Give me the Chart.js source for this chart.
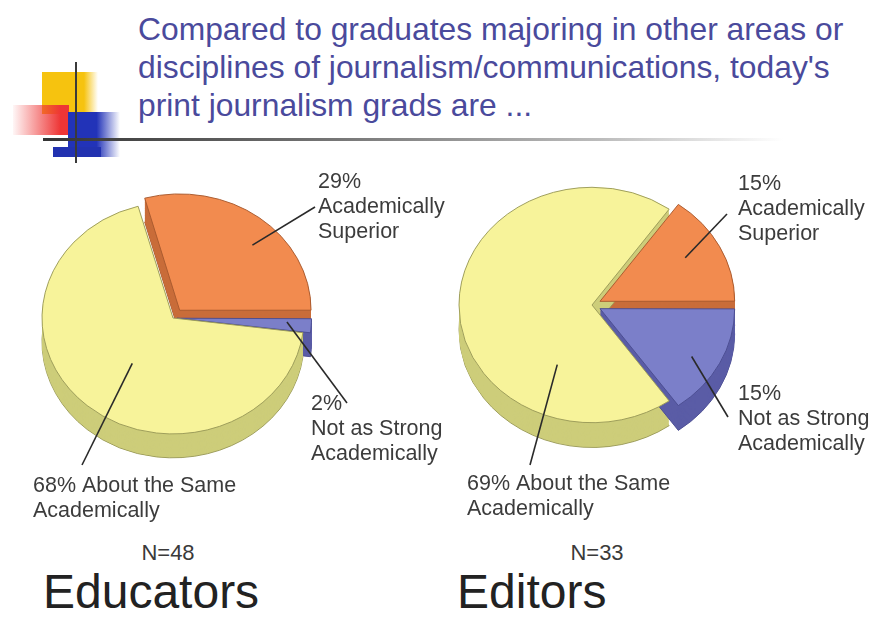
<!DOCTYPE html>
<html>
<head>
<meta charset="utf-8">
<script src="https://cdn.jsdelivr.net/npm/chart.js@4.4.1/dist/chart.umd.min.js"></script>
<style>
  body { margin: 0; width: 886px; height: 625px; background: #fff; position: relative; overflow: hidden;
         font-family: "Liberation Sans", Arial, sans-serif; }
  .abs { position: absolute; }
  #title { left: 138px; top: 10px; font-size: 31.8px; line-height: 38px; color: #4a4a9c; white-space: nowrap; }
  .n { font-size: 22px; color: #3a3a3a; line-height: 22px; }
  .group { font-size: 48px; color: #222; line-height: 48px; }
  canvas { position: absolute; }
</style>
</head>
<body>
<!-- slide decoration -->
<div class="abs" style="left:42px;top:72px;width:56px;height:42px;background:linear-gradient(to right,#f6c30f 75%,rgba(246,195,15,0));"></div>
<div class="abs" style="left:13px;top:105px;width:56px;height:30px;background:linear-gradient(to right,rgba(245,90,90,0.05),#ee3535 85%);"></div>
<div class="abs" style="left:68px;top:112px;width:52px;height:45px;background:linear-gradient(to right,#2233b8 55%,rgba(34,51,184,0));"></div>
<div class="abs" style="left:53px;top:147px;width:48px;height:10px;background:#2232b0;"></div>
<div class="abs" style="left:75px;top:62px;width:2px;height:101px;background:#3a3a3a;"></div>
<div class="abs" style="left:43px;top:138px;width:740px;height:3px;background:linear-gradient(to right,#333 0%,#777 40%,#bbb 75%,rgba(220,220,220,0) 100%);"></div>

<div id="title" class="abs">Compared to graduates majoring in other areas or<br>disciplines of journalism/communications, today's<br>print journalism grads are ...</div>

<canvas id="pieLeft" width="470" height="370" style="left:0;top:165px"></canvas>
<canvas id="pieRight" width="443" height="370" style="left:443px;top:165px"></canvas>

<div id="n0" class="abs n"></div>
<div id="g0" class="abs group"></div>
<div id="n1" class="abs n"></div>
<div id="g1" class="abs group"></div>

<script>
// data
const categories = ['Academically Superior', 'Not as Strong Academically', 'About the Same Academically'];
const labelLines = [['Academically', 'Superior'], ['Not as Strong', 'Academically'], ['About the Same', 'Academically']];
const educatorsValues = [29, 2, 68];
const editorsValues = [15, 15, 69];
const groups = ['Educators', 'Editors'];
const sampleSizes = [48, 33];

const topColors = ['#f28b4f', '#7b7fc9', '#f7f39a'];
const sideColors = ['#c96d3a', '#5a5ca6', '#cdcd7a'];
const edgeColors = ['#a8592e', '#4a4c90', '#9a9a58'];
const tilt = 0.885;

// fake 3D: squash the pie and stack darker copies of each arc underneath
const depthPlugin = {
  id: 'depth',
  beforeDatasetsDraw(chart, args, opts) {
    const ctx = chart.ctx;
    const arcs = chart.getDatasetMeta(0).data;
    const cx = arcs[0].x, cy = arcs[0].y;
    ctx.save();
    ctx.translate(cx, cy);
    ctx.scale(1, tilt);
    ctx.translate(-cx, -cy);
    const steps = Math.round(opts.depth / tilt);
    const order = arcs.map((a, i) => i).sort((a, b) =>
      Math.sin((arcs[a].startAngle + arcs[a].endAngle) / 2) - Math.sin((arcs[b].startAngle + arcs[b].endAngle) / 2));
    order.forEach(i => {
      const arc = arcs[i];
      for (let d = steps; d >= 1; d--) {
        const ghost = Object.create(arc);
        ghost.options = Object.assign({}, arc.options, {
          backgroundColor: sideColors[i],
          borderColor: edgeColors[i],
          borderWidth: d === steps ? 1 : 0
        });
        ctx.save();
        ctx.translate(0, d);
        ghost.draw(ctx);
        ctx.restore();
      }
    });
  },
  afterDatasetsDraw(chart) {
    chart.ctx.restore();
  },
  afterDraw(chart, args, opts) {
    const ctx = chart.ctx;
    const arcs = chart.getDatasetMeta(0).data;
    const values = chart.data.datasets[0].data;
    ctx.save();
    ctx.font = '21.5px "Liberation Sans", Arial, sans-serif';
    ctx.fillStyle = '#3c3c3c';
    ctx.strokeStyle = '#2a2a2a';
    ctx.lineWidth = 1.6;
    opts.labels.forEach((lab, i) => {
      const arc = arcs[i];
      const off = (arc.options.offset || 0) / 4;
      const mid = (arc.startAngle + arc.endAngle) / 2;
      const a = arc.startAngle + (arc.endAngle - arc.startAngle) * lab.t;
      const r = arc.outerRadius * lab.f;
      const sx = arc.x + Math.cos(mid) * off + Math.cos(a) * r;
      const sy = arc.y + (Math.sin(mid) * off + Math.sin(a) * r) * tilt;
      ctx.beginPath();
      ctx.moveTo(sx, sy);
      ctx.lineTo(lab.end[0] - opts.left, lab.end[1] - opts.top);
      ctx.stroke();
      const lines = i === 2
        ? [values[i] + '% ' + labelLines[i][0], labelLines[i][1]]
        : [values[i] + '%', ...labelLines[i]];
      lines.forEach((txt, k) => ctx.fillText(txt, lab.x - opts.left, lab.y - opts.top + k * 25));
    });
    ctx.restore();
  }
};

function makePie(id, values, radius, padding, offsets, depth, left, top, labels) {
  const total = values.reduce((s, v) => s + v, 0);
  return new Chart(document.getElementById(id), {
    type: 'pie',
    data: {
      labels: categories,
      datasets: [{
        data: values,
        backgroundColor: topColors,
        borderColor: edgeColors,
        borderWidth: 1,
        offset: offsets,
        radius: radius,
        rotation: 90 - 360 * values[0] / total,
        clip: false
      }]
    },
    options: {
      responsive: false,
      animation: false,
      events: [],
      layout: { padding: padding },
      plugins: {
        legend: { display: false },
        tooltip: { enabled: false },
        depth: { depth: depth, left: left, top: top, labels: labels }
      }
    },
    plugins: [depthPlugin]
  });
}

makePie('pieLeft', educatorsValues, 131, { left: 0, top: 0, right: 124, bottom: 64 }, [44, 16, 0], 24, 0, 165, [
  { t: 0.57, f: 0.79, end: [315, 207], x: 318, y: 188 },
  { t: 0.3, f: 0.84, end: [347, 403], x: 311, y: 410 },
  { t: 0.49, f: 0.5, end: [82, 465], x: 33, y: 492 }
]);
makePie('pieRight', editorsValues, 133, { left: 0, top: 0, right: 145, bottom: 90 }, [36, 36, 0], 25, 443, 165, [
  { t: 0.45, f: 0.74, end: [727, 214], x: 738, y: 190 },
  { t: 0.56, f: 0.8, end: [728, 417], x: 738, y: 400 },
  { t: 0.25, f: 0.57, end: [530, 465], x: 467, y: 490 }
]);

// group captions under each pie
const capPos = [{ n: 168, g: 43 }, { n: 597, g: 457 }];
groups.forEach((g, i) => {
  const n = document.getElementById('n' + i);
  n.textContent = 'N=' + sampleSizes[i];
  n.style.left = (capPos[i].n - 30) + 'px';
  n.style.width = '60px';
  n.style.textAlign = 'center';
  n.style.top = '542px';
  const el = document.getElementById('g' + i);
  el.textContent = g;
  el.style.left = capPos[i].g + 'px';
  el.style.top = '568px';
});
</script>
</body>
</html>
